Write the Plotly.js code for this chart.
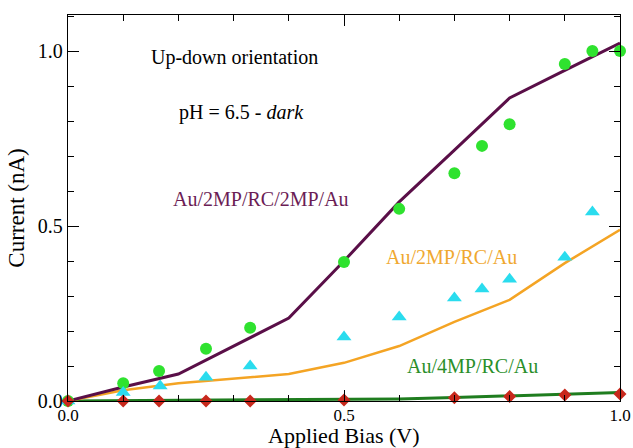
<!DOCTYPE html>
<html>
<head>
<meta charset="utf-8">
<script src="https://cdn.plot.ly/plotly-3.0.1.min.js"></script>
<style>html,body{margin:0;padding:0;background:#fff;}#chart{width:633px;height:448px;}</style>
</head>
<body>
<div id="chart"></div>
<script>
// Au/2MP/RC/2MP/Au : measured (green circles) and calculated (purple line)
const bias2MP2MPData = [0.0, 0.1, 0.165, 0.25, 0.33, 0.5, 0.6, 0.7, 0.75, 0.8, 0.9, 0.95, 1.0];
const current2MP2MPData = [0.0, 0.051, 0.086, 0.149, 0.209, 0.397, 0.549, 0.651, 0.729, 0.791, 0.963, 1.0, 1.0];
const bias2MP2MPCalc = [0.0, 0.1, 0.2, 0.3, 0.4, 0.5, 0.6, 0.7, 0.8, 0.9, 1.0];
const current2MP2MPCalc = [0.0, 0.04, 0.077, 0.157, 0.237, 0.40, 0.569, 0.717, 0.866, 0.945, 1.023];

// Au/2MP/RC/Au : measured (cyan triangles) and calculated (orange line)
const bias2MPData = [0.0, 0.1, 0.167, 0.25, 0.33, 0.5, 0.6, 0.7, 0.75, 0.8, 0.9, 0.95];
const current2MPData = [0.0, 0.024, 0.043, 0.068, 0.10, 0.183, 0.24, 0.294, 0.32, 0.348, 0.411, 0.54];
const bias2MPCalc = [0.0, 0.1, 0.2, 0.3, 0.4, 0.5, 0.6, 0.7, 0.8, 0.9, 1.0];
const current2MPCalc = [0.0, 0.031, 0.051, 0.065, 0.077, 0.109, 0.157, 0.226, 0.289, 0.394, 0.489];

// Au/4MP/RC/Au : measured (red diamonds) and calculated (dark green line)
const bias4MPData = [0.0, 0.1, 0.165, 0.25, 0.33, 0.5, 0.7, 0.8, 0.9, 1.0];
const current4MPData = [0.0, 0.0, 0.0, 0.0, 0.0, 0.003, 0.009, 0.013, 0.017, 0.02];
const bias4MPCalc = [0.0, 0.1, 0.2, 0.3, 0.4, 0.5, 0.6, 0.7, 0.8, 0.9, 1.0];
const current4MPCalc = [0.0, 0.001, 0.002, 0.002, 0.003, 0.004, 0.006, 0.010, 0.014, 0.018, 0.024];

const xTickVals = [0.0, 0.5, 1.0];
const xTickText = ['0.0', '0.5', '1.0'];
const yTickVals = [0.0, 0.5, 1.0];
const yTickText = ['0.0', '0.5', '1.0'];

const serif = '"Liberation Serif", serif';

const traces = [
  {x: bias4MPCalc, y: current4MPCalc, mode: 'lines', line: {color: '#1f7d1f', width: 3}, cliponaxis: false},
  {x: bias2MPCalc, y: current2MPCalc, mode: 'lines', line: {color: '#f4a424', width: 2.5}, cliponaxis: false},
  {x: bias2MP2MPCalc, y: current2MP2MPCalc, mode: 'lines', line: {color: '#5a0f48', width: 3}, cliponaxis: false},
  {x: bias2MP2MPData, y: current2MP2MPData, mode: 'markers', marker: {symbol: 'circle', color: '#2fe22f', size: 12}, cliponaxis: false},
  {x: bias2MPData, y: current2MPData, mode: 'markers', marker: {symbol: 'triangle-up', color: '#2adcee', size: 13}, cliponaxis: false},
  {x: bias4MPData, y: current4MPData, mode: 'markers', marker: {symbol: 'diamond', color: '#c8281c', size: 10}, cliponaxis: false}
];

function ann(cx, cy, text, color, size) {
  return {xref: 'paper', yref: 'paper', x: (cx - 68) / 552, y: (401 - cy) / 386,
    xanchor: 'center', yanchor: 'middle', text: text, showarrow: false,
    font: {family: serif, size: size || 20, color: color}};
}

const layout = {
  width: 633, height: 448,
  margin: {l: 68, r: 13, t: 15, b: 47},
  paper_bgcolor: '#ffffff', plot_bgcolor: '#ffffff',
  showlegend: false,
  font: {family: serif, color: '#000', size: 20},
  xaxis: {
    range: [0, 1], showgrid: false, zeroline: false,
    showline: true, linecolor: '#000', linewidth: 1.2, mirror: 'ticks',
    ticks: 'inside', ticklen: 11, tickwidth: 1, tickcolor: '#000',
    tickvals: xTickVals, ticktext: xTickText,
    tickfont: {family: serif, size: 17, color: '#000'},
    ticklabelstandoff: -2,
    minor: {dtick: 0.1, ticks: 'inside', ticklen: 6, tickcolor: '#000', showgrid: false}
  },
  yaxis: {
    range: [0, 1.103], showgrid: false, zeroline: false,
    showline: true, linecolor: '#000', linewidth: 1.2, mirror: 'ticks',
    ticks: 'inside', ticklen: 11, tickwidth: 1, tickcolor: '#000',
    tickvals: yTickVals, ticktext: yTickText,
    tickfont: {family: serif, size: 20, color: '#000'},
    minor: {dtick: 0.1, ticks: 'inside', ticklen: 6, tickcolor: '#000', showgrid: false},
    title: {text: 'Current (nA)', font: {family: serif, size: 23, color: '#000'}, standoff: 6}
  },
  annotations: [
    ann(234, 57, 'Up-down orientation', '#000'),
    ann(241, 112, 'pH = 6.5 - <i>dark</i>', '#000'),
    ann(261, 199, 'Au/2MP/RC/2MP/Au', '#6b1d55'),
    ann(451, 257, 'Au/2MP/RC/Au', '#f0a830'),
    ann(472, 366, 'Au/4MP/RC/Au', '#2a8f2a'),
    {xref: 'paper', yref: 'paper', x: (344 - 68) / 552, y: (401 - 449) / 386,
      xanchor: 'center', yanchor: 'bottom', text: 'Applied Bias (V)', showarrow: false, borderpad: 0,
      font: {family: serif, size: 22, color: '#000'}}
  ]
};

Plotly.newPlot('chart', traces, layout, {displayModeBar: false, staticPlot: true});
</script>
</body>
</html>
